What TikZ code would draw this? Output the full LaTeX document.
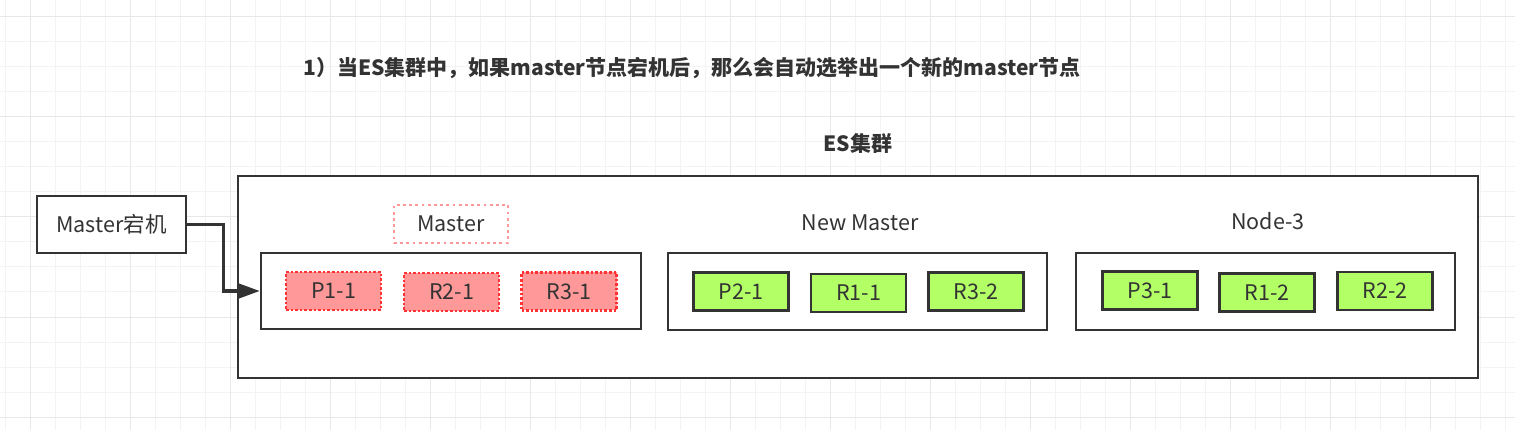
\documentclass[tikz,border=0pt]{standalone}
\usepackage{fontspec}
\setmainfont{Noto Sans CJK SC}
\usetikzlibrary{arrows.meta,positioning}
\definecolor{inkgray}{HTML}{333333}
\definecolor{downfill}{HTML}{FF9999}
\definecolor{downline}{HTML}{FF3333}
\definecolor{livefill}{HTML}{B3FF66}
\definecolor{gridminor}{HTML}{F3F3F3}
\definecolor{gridmajor}{HTML}{E8E8E8}
\begin{document}
\begin{tikzpicture}[x=1pt,y=-1pt,
    txt/.style={text=inkgray,font=\fontsize{21.5}{25}\selectfont,inner sep=0pt},
    box/.style={draw=inkgray,line width=2.4pt,fill=white},
    shard/.style={txt,minimum width=95pt,minimum height=38pt},
    downshard/.style={shard,fill=downfill,draw=downline,line width=2.6pt,
        dash pattern=on 2.6pt off 2pt},
    liveshard/.style={shard,fill=livefill,draw=inkgray,line width=2.6pt}]
  \useasboundingbox (0,0) rectangle (1515,430);
  \fill[white] (0,0) rectangle (1515,430);
  % background grid
  \foreach \x in {5,30,...,1505}
    \draw[gridminor,line width=1pt] (\x,0) -- (\x,430);
  \foreach \y in {17,42,...,430}
    \draw[gridminor,line width=1pt] (0,\y) -- (1515,\y);
  \foreach \x in {30,130,...,1505}
    \draw[gridmajor,line width=1pt] (\x,0) -- (\x,430);
  \foreach \y in {17,117,...,430}
    \draw[gridmajor,line width=1pt] (0,\y) -- (1515,\y);

  \node[txt,font=\fontsize{21}{25}\selectfont\bfseries] (title) at (692,68)
    {1）当ES集群中，如果master节点宕机后，那么会自动选举出一个新的master节点};
  \node[txt,font=\fontsize{21}{25}\selectfont\bfseries] (cluster label) at (858,143) {ES集群};
  \node[box,line width=2.8pt,minimum width=1240pt,minimum height=202pt] (cluster) at (858,277) {};

  \node[txt,box,minimum width=149pt,minimum height=57pt] (down) at (111.5,224.5) {Master宕机};

  % nodes of the cluster
  \node[box,minimum width=380pt,minimum height=76pt] (node1) at (451,291) {};
  \node[box,minimum width=379pt,minimum height=77pt] (node2) at (857.5,291.5) {};
  \node[box,minimum width=379pt,minimum height=77pt] (node3) at (1265.5,291.5) {};
  \node[txt,draw=downfill,line width=2.8pt,dash pattern=on 2.8pt off 3.4pt,
    minimum width=114pt,minimum height=38pt] (node1 label) at (451,224) {Master};
  \node[txt] (node2 label) at (860,223) {New Master};
  \node[txt] (node3 label) at (1268,221) {Node-3};

  % shards
  \node[downshard] (P11) at (333.5,291) {P1-1};
  \node[downshard] (R21) at (451.5,292) {R2-1};
  \node[downshard] (R31) at (569,291.5) {R3-1};
  \node[liveshard] (P21) at (741,291.5) {P2-1};
  \node[liveshard] (R11) at (858.5,293) {R1-1};
  \node[liveshard] (R32) at (976,291.5) {R3-2};
  \node[liveshard] (P31) at (1150,290.5) {P3-1};
  \node[liveshard] (R12) at (1267,292.5) {R1-2};
  \node[liveshard] (R22) at (1385,291) {R2-2};

  \draw[inkgray,line width=3.2pt,-{Triangle[length=22pt,width=15pt]}]
    (down.east) -- ++(36,0) |- (node1.west);
\end{tikzpicture}
\end{document}
